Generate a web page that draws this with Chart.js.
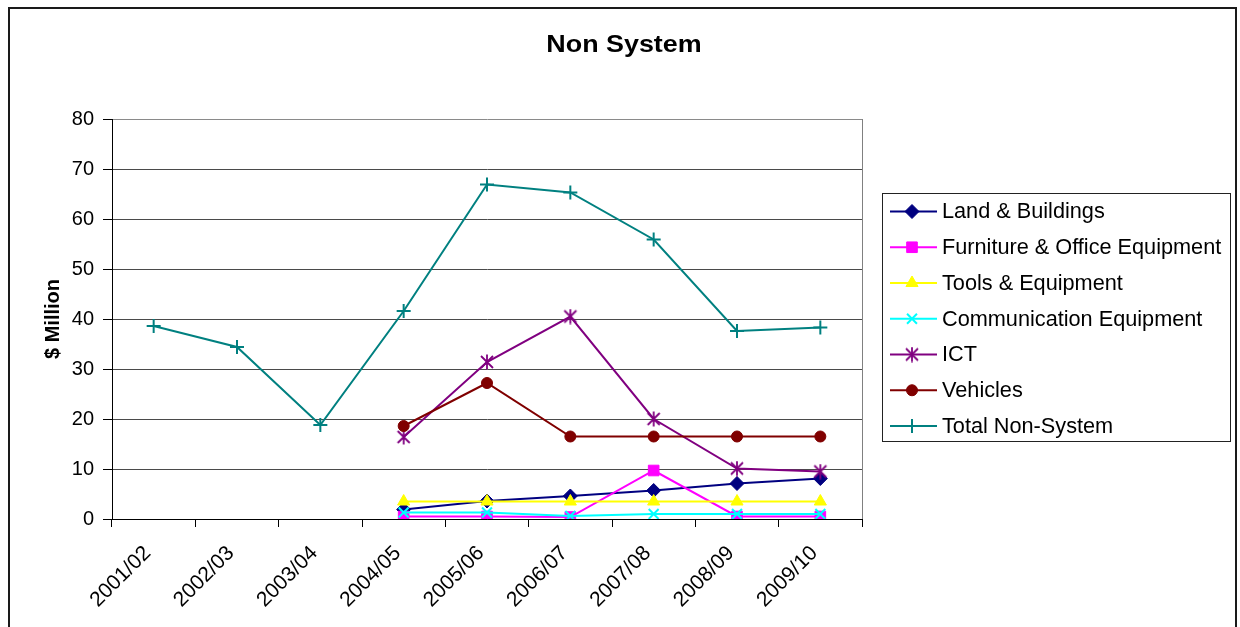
<!DOCTYPE html>
<html>
<head>
<meta charset="utf-8">
<title>Non System</title>
<script src="https://cdn.jsdelivr.net/npm/chart.js@4/dist/chart.umd.min.js"></script>
<style>
  html, body { margin: 0; padding: 0; background: #ffffff; }
  #wrap { width: 1240px; height: 627px; position: relative; }
</style>
</head>
<body>
<div id="wrap"><canvas id="chart" width="1240" height="627"></canvas></div>
<script>
// Financial years on the category axis
const years = ['2001/02', '2002/03', '2003/04', '2004/05', '2005/06', '2006/07', '2007/08', '2008/09', '2009/10'];

// Expenditure by asset class, $ Million (null = no figure for that year)
const landBuildings      = [null, null, null, 1.9, 3.6, 4.6, 5.7, 7.1, 8.1];
const furnitureOffice    = [null, null, null, 0.5, 0.5, 0.4, 9.7, 0.5, 0.5];
const toolsEquipment     = [null, null, null, 3.5, 3.5, 3.5, 3.5, 3.5, 3.5];
const communicationEquip = [null, null, null, 1.3, 1.3, 0.6, 1.0, 1.0, 1.0];
const ict                = [null, null, null, 16.4, 31.4, 40.5, 20.0, 10.1, 9.5];
const vehicles           = [null, null, null, 18.6, 27.2, 16.5, 16.5, 16.5, 16.5];
const totalNonSystem     = [38.6, 34.4, 18.8, 41.6, 66.9, 65.3, 55.9, 37.6, 38.3];

// Value axis ticks
const yTicks = [0, 10, 20, 30, 40, 50, 60, 70, 80];

const chartTitle = 'Non System';
const FONT = "'Liberation Sans', Arial, Helvetica, sans-serif";

// Six-armed asterisk marker (an "x" with a vertical bar)
function asteriskMarker(color) {
  const c = document.createElement('canvas');
  c.width = 16; c.height = 16;
  const g = c.getContext('2d');
  g.strokeStyle = color;
  g.lineWidth = 1.8;
  g.beginPath();
  g.moveTo(2, 2); g.lineTo(14, 14);
  g.moveTo(14, 2); g.lineTo(2, 14);
  g.moveTo(8, 0.5); g.lineTo(8, 15.5);
  g.stroke();
  return c;
}

function series(label, data, color, pointStyle, radius, pointBorderWidth) {
  return {
    label, data,
    borderColor: color,
    backgroundColor: color,
    pointBackgroundColor: color,
    pointBorderColor: color,
    pointStyle,
    pointRadius: radius,
    pointHoverRadius: radius,
    pointBorderWidth,
    borderWidth: 2,
    tension: 0,
    spanGaps: false
  };
}

const datasets = [
  series('Land & Buildings', landBuildings, '#000080', 'rectRot', 7, 1),
  series('Furniture & Office Equipment', furnitureOffice, '#FF00FF', 'rect', 7.5, 1),
  series('Tools & Equipment', toolsEquipment, '#FFFF00', 'triangle', 7, 1),
  series('Communication Equipment', communicationEquip, '#00FFFF', 'crossRot', 7, 2),
  series('ICT', ict, '#800080', asteriskMarker('#800080'), 8, 2),
  series('Vehicles', vehicles, '#800000', 'circle', 5.5, 1),
  series('Total Non-System', totalNonSystem, '#008080', 'cross', 7, 2)
];
// later series are painted over earlier ones
datasets.forEach((d, i) => { d.order = datasets.length - i; });

// White page, dark frame, centred title and the plot's right edge
const framePlugin = {
  id: 'frame',
  beforeDraw(chart) {
    const ctx = chart.ctx;
    ctx.save();
    ctx.fillStyle = '#ffffff';
    ctx.fillRect(0, 0, chart.width, chart.height);
    ctx.strokeStyle = '#1a1a1a';
    ctx.lineWidth = 2;
    ctx.strokeRect(9, 8, 1227, 700);
    // title, slightly widened
    ctx.translate(624, 45);
    ctx.scale(1.12, 1);
    ctx.fillStyle = '#000000';
    ctx.font = 'bold 24px ' + FONT;
    ctx.textAlign = 'center';
    ctx.textBaseline = 'middle';
    ctx.fillText(chartTitle, 0, 0);
    ctx.restore();
  },
  beforeDatasetsDraw(chart) {
    const { ctx, chartArea } = chart;
    ctx.save();
    ctx.strokeStyle = '#808080';
    ctx.lineWidth = 1;
    ctx.beginPath();
    ctx.moveTo(Math.round(chartArea.right) + 0.5, chartArea.top);
    ctx.lineTo(Math.round(chartArea.right) + 0.5, chartArea.bottom);
    ctx.stroke();
    ctx.restore();
  }
};

// Boxed legend to the right of the plot
const boxLegendPlugin = {
  id: 'boxLegend',
  afterDraw(chart) {
    const ctx = chart.ctx;
    const left = 882.5, top = 193.5, right = 1230.5, bottom = 441.5;
    const rowTop = 211.5, rowGap = 35.75;
    ctx.save();
    ctx.strokeStyle = '#222222';
    ctx.lineWidth = 1;
    ctx.strokeRect(left, top, right - left, bottom - top);
    chart.data.datasets.forEach((ds, i) => {
      const y = rowTop + i * rowGap;
      ctx.strokeStyle = ds.borderColor;
      ctx.lineWidth = 2;
      ctx.beginPath();
      ctx.moveTo(890, y);
      ctx.lineTo(937, y);
      ctx.stroke();
      ctx.fillStyle = ds.pointBackgroundColor;
      ctx.strokeStyle = ds.pointBorderColor;
      ctx.lineWidth = ds.pointBorderWidth;
      Chart.helpers.drawPoint(ctx, {
        pointStyle: ds.pointStyle,
        radius: ds.pointRadius,
        rotation: 0,
        borderWidth: ds.pointBorderWidth
      }, 912, y);
      ctx.fillStyle = '#000000';
      ctx.font = '21.7px ' + FONT;
      ctx.textAlign = 'left';
      ctx.textBaseline = 'middle';
      ctx.fillText(ds.label, 942, y + 1);
    });
    ctx.restore();
  }
};

new Chart(document.getElementById('chart'), {
  type: 'line',
  data: { labels: years, datasets },
  plugins: [framePlugin, boxLegendPlugin],
  options: {
    responsive: false,
    animation: false,
    devicePixelRatio: 1,
    layout: { padding: { left: 0, right: 378, top: 119, bottom: 0 } },
    plugins: {
      legend: { display: false },
      tooltip: { enabled: false },
      title: { display: false }
    },
    scales: {
      x: {
        type: 'category',
        offset: true,
        grid: {
          offset: true,
          drawOnChartArea: false,
          drawTicks: true,
          tickLength: 8,
          color: '#000000',
          lineWidth: 1
        },
        border: { display: true, color: '#000000', width: 1 },
        ticks: {
          color: '#000000',
          font: { family: FONT, size: 21 },
          minRotation: 45,
          maxRotation: 45,
          autoSkip: false,
          padding: 14,
          labelOffset: -6
        },
        afterFit(scale) { scale.height = 108; }
      },
      y: {
        min: 0,
        max: 80,
        afterBuildTicks(scale) { scale.ticks = yTicks.map(v => ({ value: v })); },
        grid: {
          color: (c) => (c.tick && c.tick.value === 80 ? '#8a8a8a' : '#4a4a4a'),
          lineWidth: 1,
          drawTicks: true,
          tickLength: 9,
          tickColor: '#000000'
        },
        border: { display: true, color: '#000000', width: 1 },
        ticks: {
          color: '#000000',
          font: { family: FONT, size: 20 },
          padding: 9
        },
        title: {
          display: true,
          text: '$ Million',
          color: '#000000',
          font: { family: FONT, size: 20, weight: 'bold', lineHeight: 1.2 },
          padding: { top: 41, bottom: 0 }
        },
        afterFit(scale) { scale.width = 112; }
      }
    }
  }
});
</script>
</body>
</html>
